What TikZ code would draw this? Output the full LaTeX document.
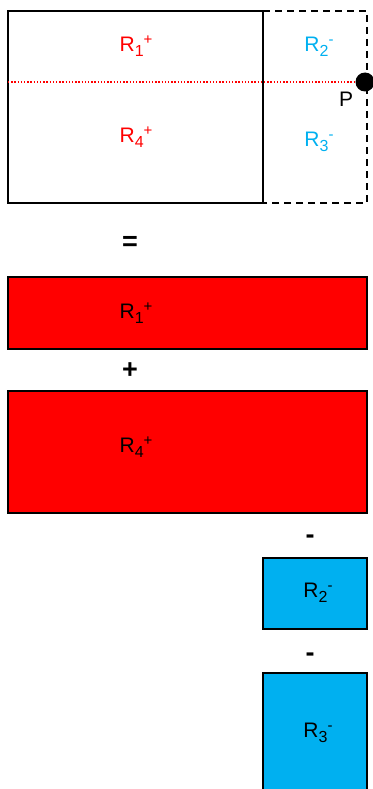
\documentclass[tikz,border=0pt]{standalone}
\usepackage{fontspec}
\setmainfont{Liberation Sans}
\usepackage{tikz}
\usetikzlibrary{positioning}

\definecolor{posred}{RGB}{255,0,0}
\definecolor{negblue}{RGB}{0,176,240}

\newcommand{\reg}[2]{R\raisebox{-5pt}{\fontsize{16}{16}\selectfont #1}\raisebox{7pt}{\fontsize{15}{15}\selectfont #2}}

\begin{document}
\begin{tikzpicture}[
      x=1pt, y=-1pt,
      font=\fontsize{21}{24}\selectfont,
      box/.style={draw, line width=1.3pt},
      posbox/.style={box, fill=posred},
      negbox/.style={box, fill=negblue},
      lbl/.style={inner sep=0pt, anchor=center},
      opsign/.style={inner sep=0pt, font=\fontsize{27}{30}\selectfont\bfseries}
    ]
    \useasboundingbox (0,0) rectangle (372,789);

    % top figure
    \draw[box] (8,11) rectangle (263,203);
    \draw[box, dashed, dash pattern=on 7pt off 5pt] (263,11) -- (367,11) -- (367,203) -- (263,203);
    \coordinate (lft) at (8,82);
    \node[circle, fill=black, minimum size=19pt, inner sep=0pt] (pt) at (365,82) {};
    \draw[posred, line width=1.6pt, dash pattern=on 1.4pt off 1.8pt] (lft) -- (pt.west);
    \node[lbl] (plbl) at (346,99) {P};
    \node[lbl, text=posred]  (r1) at (136,46)  {\reg{1}{+}};
    \node[lbl, text=negblue] (r2) at (319,47)  {\reg{2}{-}};
    \node[lbl, text=posred]  (r4) at (136,137) {\reg{4}{+}};
    \node[lbl, text=negblue] (r3) at (319,142) {\reg{3}{-}};

    % decomposition
    \node[opsign] (eq) at (130,243) {=};
    \draw[posbox] (8,277) rectangle (367,349);
    \node[lbl] (b1) at (136,313) {\reg{1}{+}};
    \node[opsign] (pl) at (130,371) {+};
    \draw[posbox] (8,391) rectangle (367,513);
    \node[lbl] (b4) at (136,447) {\reg{4}{+}};
    \node[opsign] (mi1) at (310,539) {-};
    \draw[negbox] (263,558) rectangle (367,629);
    \node[lbl] (b2) at (318,593) {\reg{2}{-}};
    \node[opsign] (mi2) at (310,657) {-};
    \draw[negbox] (263,673) rectangle (367,790);
    \node[lbl] (b3) at (318,733) {\reg{3}{-}};
  \end{tikzpicture}
\end{document}
